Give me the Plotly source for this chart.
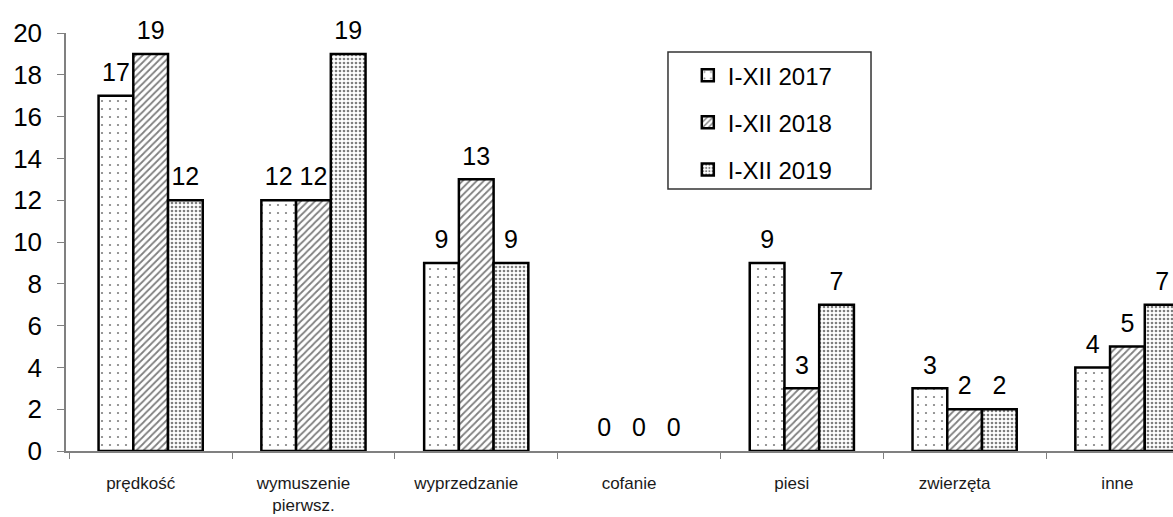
import plotly.graph_objects as go

categories = ["prędkość", "wymuszenie<br>pierwsz.", "wyprzedzanie", "cofanie", "piesi", "zwierzęta", "inne"]
series_names = ["I-XII 2017", "I-XII 2018", "I-XII 2019"]
values_2017 = [17, 12, 9, 0, 9, 3, 4]
values_2018 = [19, 12, 13, 0, 3, 2, 5]
values_2019 = [12, 19, 9, 0, 7, 2, 7]
y_ticks = [0, 2, 4, 6, 8, 10, 12, 14, 16, 18, 20]

series = [values_2017, values_2018, values_2019]
patterns = [
    dict(shape=".", fgcolor="black", bgcolor="white", size=8, solidity=0.06),
    dict(shape="/", fgcolor="black", bgcolor="white", size=5, solidity=0.35),
    dict(shape=".", fgcolor="black", bgcolor="white", size=4, solidity=0.35),
]

FONT = "Liberation Sans, Arial, sans-serif"
fig = go.Figure()
for i, (name, vals) in enumerate(zip(series_names, series)):
    fig.add_trace(go.Bar(
        x=categories, y=vals, name=name,
        marker=dict(color="white",
                    line=dict(color="black", width=[2.5 if v > 0 else 0 for v in vals]),
                    pattern=patterns[i]),
        legendgroup=name, hoverinfo="skip",
    ))
for i, (name, vals) in enumerate(zip(series_names, series)):
    fig.add_trace(go.Scatter(
        x=categories, y=vals, mode="markers+text", text=[str(v) for v in vals],
        textposition="top center", textfont=dict(size=25, color="black", family=FONT),
        marker=dict(size=12, color="rgba(0,0,0,0)"), showlegend=False, cliponaxis=False,
        hoverinfo="skip",
    ))

fig.update_layout(
    width=1173, height=517,
    margin=dict(l=66, r=0, t=33, b=66, autoexpand=False),
    paper_bgcolor="white", plot_bgcolor="white",
    barmode="group", bargap=0.36, bargroupgap=0,
    scattermode="group", scattergap=0.36,
    font=dict(family=FONT, color="black"),
    showlegend=True,
    legend=dict(
        x=0.5617, y=0.952, xanchor="left", yanchor="top",
        bgcolor="rgba(0,0,0,0)", borderwidth=0,
        font=dict(size=24, color="black", family=FONT),
        tracegroupgap=13, traceorder="grouped",
    ),
    shapes=[dict(type="rect", xref="paper", yref="paper",
                 x0=0.5438, x1=0.7272, y0=0.6268, y1=0.9545,
                 line=dict(color="#333333", width=1.5), fillcolor="rgba(0,0,0,0)", layer="below")],
)
fig.update_xaxes(
    range=[-0.52, 6.28], showline=True, linecolor="#808080", linewidth=1.5,
    ticks="outside", tickson="boundaries", ticklen=6, tickcolor="#808080",
    tickfont=dict(size=17, color="#1a1a1a", family=FONT), showgrid=False, zeroline=False,
    ticklabelstandoff=16, ticklabelshift=-10, automargin=False,
)
fig.update_yaxes(
    range=[0, 20], tickvals=y_ticks, showline=True, linecolor="#808080", linewidth=1.5,
    ticks="outside", ticklen=7, tickcolor="#808080",
    tickfont=dict(size=26, color="black", family=FONT), showgrid=False, zeroline=False,
    ticklabelstandoff=10, automargin=False,
)
fig.write_html(
    "out.html",
    config={"displayModeBar": False},
    post_script="document.body.style.margin='0';document.body.style.overflow='hidden';",
)
